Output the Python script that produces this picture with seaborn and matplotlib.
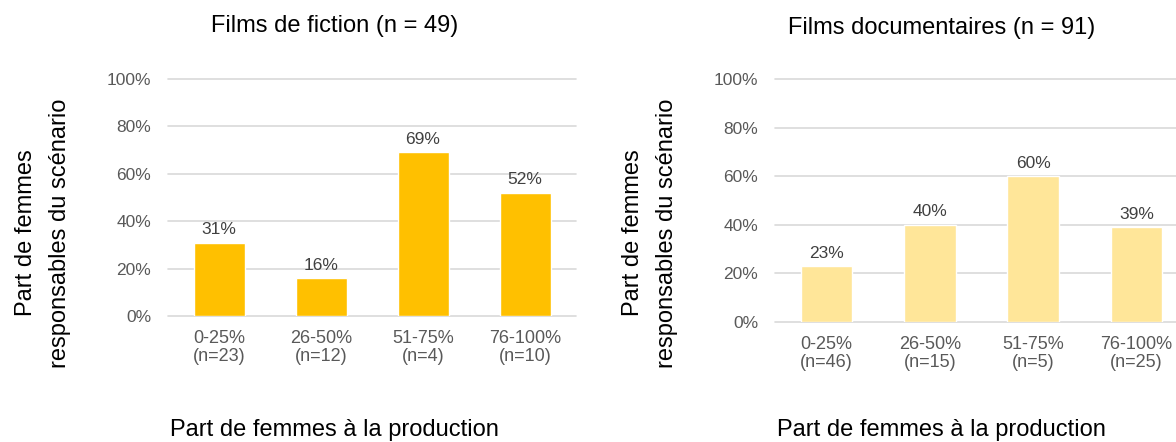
import matplotlib
matplotlib.use("Agg")
import matplotlib.pyplot as plt
from matplotlib.ticker import FuncFormatter
import seaborn as sns
import pandas as pd

# ----------------------------
# DATA
# ----------------------------
categories = ["0-25%", "26-50%", "51-75%", "76-100%"]

fiction_n = [23, 12, 4, 10]
fiction_share = [31, 16, 69, 52]

doc_n = [46, 15, 5, 25]
doc_share = [23, 40, 60, 39]

titles = ["Films de fiction (n = 49)", "Films documentaires (n = 91)"]
colors = ["#FFC000", "#FFE699"]

xlabel = "Part de femmes à la production"
ylabel = "Part de femmes\nresponsables du scénario"

# ----------------------------
# STYLE
# ----------------------------
sns.set_theme(style="white")
plt.rcParams["font.family"] = ["Liberation Sans", "DejaVu Sans"]

W, H = 1176, 442
fig = plt.figure(figsize=(W / 100, H / 100), dpi=100)

# panel boxes in pixels: left, top(100%), bottom(0%), width, title y
panels = [
    (168, 79, 316, 408, 26),
    (775, 79, 322, 413, 28),
]
datasets = [(fiction_share, fiction_n), (doc_share, doc_n)]

for i, ((left, top, bottom, width, ty), (share, ns)) in enumerate(zip(panels, datasets)):
    ax = fig.add_axes([left / W, (H - bottom) / H, width / W, (bottom - top) / H])

    df = pd.DataFrame({
        "cat": [f"{c}\n(n={n})" for c, n in zip(categories, ns)],
        "share": share,
    })
    sns.barplot(data=df, x="cat", y="share", color=colors[i], saturation=1,
                width=0.5, ax=ax)

    ax.set_ylim(0, 100)
    ax.set_yticks(range(0, 101, 20))
    ax.yaxis.set_major_formatter(FuncFormatter(lambda v, p: f"{v:.0f}%"))
    ax.yaxis.grid(True, color="#D9D9D9", linewidth=1.2, clip_on=False)
    ax.set_axisbelow(True)
    for s in ax.spines.values():
        s.set_visible(False)
    ax.tick_params(axis="both", length=0, labelcolor="#595959")
    ax.tick_params(axis="y", pad=12, labelsize=12.5)
    ax.tick_params(axis="x", pad=10, labelsize=13)
    for lbl in ax.get_xticklabels():
        lbl.set_linespacing(1.1)
    ax.set_xlabel("")
    ax.set_ylabel("")

    ax.bar_label(ax.containers[0], labels=[f"{v}%" for v in share],
                 padding=4, fontsize=12.5, color="#404040")

    cx = left + 166.5
    fig.text(cx / W, 1 - ty / H, titles[i], ha="center", va="center",
             fontsize=17, color="black")
    fig.text(cx / W, 1 - 430 / H, xlabel, ha="center", va="center",
             fontsize=17, color="black")
    fig.text((left - 125) / W, 1 - 233 / H, ylabel, ha="center", va="center",
             rotation=90, fontsize=17, color="black", linespacing=1.65,
             multialignment="center")

fig.savefig("out.png", dpi=100)
